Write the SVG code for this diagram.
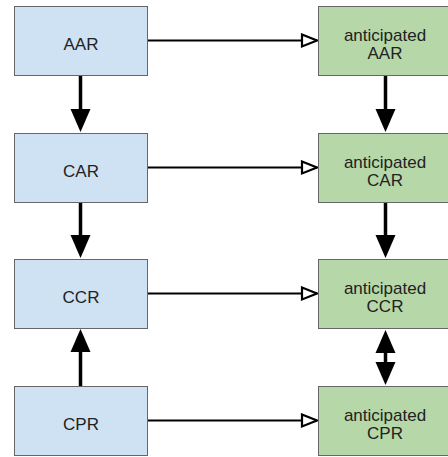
<svg xmlns="http://www.w3.org/2000/svg" width="448" height="457" viewBox="0 0 448 457">
<style>
  .l rect { fill: #cfe2f3; stroke: #666; stroke-width: 1; }
  .r rect { fill: #b6d7a8; stroke: #666; stroke-width: 1; }
  text { font-family: "Liberation Sans", Arial, sans-serif; font-size: 17px; fill: #222; text-anchor: middle; }
  .h { stroke: #000; stroke-width: 2; fill: none; marker-end: url(#open); }
  .v { stroke: #000; stroke-width: 3.5; fill: none; marker-end: url(#solid); }
  .d { stroke: #000; stroke-width: 3.5; fill: none; marker-end: url(#solid); marker-start: url(#solid); }
</style>
<defs>
  <marker id="open" markerUnits="userSpaceOnUse" markerWidth="20" markerHeight="16" viewBox="-2 -2 20 16" refX="15" refY="6" orient="auto">
    <path d="M0,0 L15,6 L0,12 Z" fill="#fff" stroke="#000" stroke-width="2.2" stroke-linejoin="miter"/>
  </marker>
  <marker id="solid" markerUnits="userSpaceOnUse" markerWidth="24" markerHeight="22" viewBox="0 0 24 22" refX="1" refY="11" orient="auto-start-reverse">
    <path d="M0,1 L23,11 L0,21 Z" fill="#000"/>
  </marker>
</defs>
<g id="connectors">
  <path class="h" d="M148,40.5 L317,40.5"/>
  <path class="h" d="M148,167.5 L317,167.5"/>
  <path class="h" d="M148,293.5 L317,293.5"/>
  <path class="h" d="M148,420.5 L317,420.5"/>
  <path class="v" d="M80.5,75 L80.5,110"/>
  <path class="v" d="M80.5,202 L80.5,236"/>
  <path class="v" d="M80.5,386 L80.5,351"/>
  <path class="v" d="M385.5,75 L385.5,110"/>
  <path class="v" d="M385.5,202 L385.5,236"/>
  <path class="d" d="M385.5,352 L385.5,363"/>
</g>
<g id="AAR" class="l"><rect x="14.5" y="6.5" width="133" height="69"/><text x="81" y="50">AAR</text></g>
<g id="CAR" class="l"><rect x="14.5" y="133.5" width="133" height="69"/><text x="81" y="177">CAR</text></g>
<g id="CCR" class="l"><rect x="14.5" y="259.5" width="133" height="69"/><text x="81" y="303">CCR</text></g>
<g id="CPR" class="l"><rect x="14.5" y="386.5" width="133" height="69"/><text x="81" y="430">CPR</text></g>
<g id="antAAR" class="r"><rect x="318.5" y="6.5" width="134" height="69"/><text x="385" y="40.7">anticipated</text><text x="385" y="59.3">AAR</text></g>
<g id="antCAR" class="r"><rect x="318.5" y="133.5" width="134" height="69"/><text x="385" y="167.7">anticipated</text><text x="385" y="186.3">CAR</text></g>
<g id="antCCR" class="r"><rect x="318.5" y="259.5" width="134" height="69"/><text x="385" y="293.7">anticipated</text><text x="385" y="312.3">CCR</text></g>
<g id="antCPR" class="r"><rect x="318.5" y="386.5" width="134" height="69"/><text x="385" y="420.7">anticipated</text><text x="385" y="439.3">CPR</text></g>
</svg>
